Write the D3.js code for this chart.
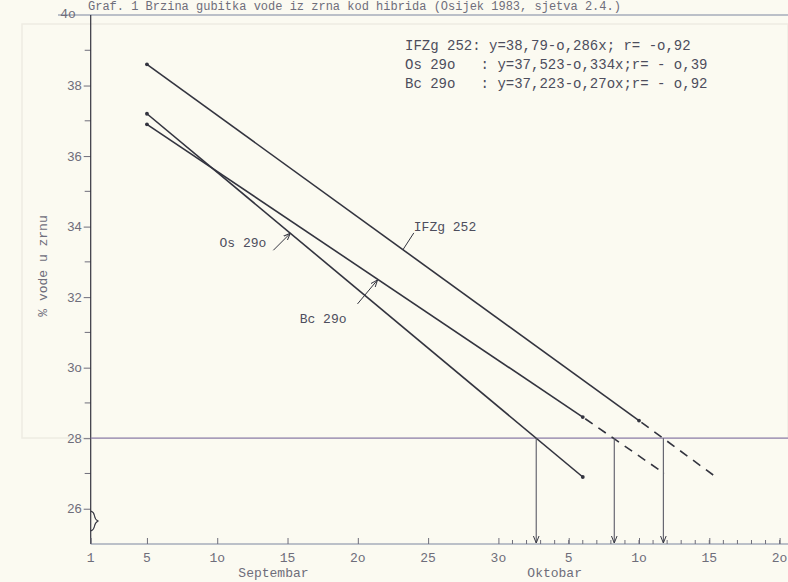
<!DOCTYPE html>
<html>
<head>
<meta charset="utf-8">
<style>
  html, body { margin: 0; padding: 0; background: #fbfaf1; }
  svg { display: block; }
</style>
</head>
<body>
<svg width="788" height="582" font-family="'Liberation Mono', 'DejaVu Sans Mono', monospace"></svg>

<script src="https://cdnjs.cloudflare.com/ajax/libs/d3/7.8.5/d3.min.js"></script>

<script>
// days are counted from 1 September (1 Oct = day 31)
var hybrids = ["IFZg 252", "Os 29o", "Bc 29o"];
var startDays = [5, 5, 5];
var startValues = [38.6, 37.2, 36.9];
var solidEndDays = [40, 36, 36];
var solidEndValues = [28.5, 26.9, 28.6];
var dashEndDays = [45.3, null, 41.8];
var dashEndValues = [26.95, null, 27.0];
var labelDays = [23.2, 15.2, 21.4];   // where each name label points at its line

var equations = [
  "IFZg 252: y=38,79-o,286x; r= -o,92",
  "Os 29o   : y=37,523-o,334x;r= - o,39",
  "Bc 29o   : y=37,223-o,27ox;r= - o,92"
];

var threshold = 28;
var yTickValues = [26, 28, 30, 32, 34, 36, 38];
var yTickLabels = ["26", "28", "3o", "32", "34", "36", "38"];
var yMinorValues = [27, 29, 31, 33, 35, 37, 39];
var xTickDays = [1, 5, 10, 15, 20, 25, 30, 35, 40, 45, 50];
var xTickLabels = ["1", "5", "1o", "15", "2o", "25", "3o", "5", "1o", "15", "2o"];
var months = ["Septembar", "Oktobar"];
var monthDays = [14, 34];

var svg = d3.select("svg"),
    width = +svg.attr("width"),
    height = +svg.attr("height");

var ink = "#33343f", faint = "#6e6d7a", rule = "#8f80ab";

var x = d3.scaleLinear().domain([1, 50]).range([90.7, 779.6]);
var y = d3.scaleLinear().domain([25, 40]).range([544, 15]);

// faint show-through panel of the scanned page
svg.append("rect").attr("x", 22).attr("y", 24).attr("width", 766).attr("height", 414)
    .attr("fill", "none").attr("stroke", "#eeece2").attr("stroke-width", 1.5);

// title (cut by the scan in the original, kept readable here)
svg.append("text")
    .attr("x", 88).attr("y", 10)
    .attr("font-size", 12).attr("fill", faint)
    .text("Graf. 1 Brzina gubitka vode iz zrna kod hibrida (Osijek 1983, sjetva 2.4.)");

// top rule at 40
svg.append("line")
    .attr("x1", 58).attr("x2", width).attr("y1", y(40)).attr("y2", y(40))
    .attr("stroke", "#7d86a0").attr("stroke-width", 1.2);
svg.append("text").attr("x", 68).attr("y", y(40) + 3)
    .attr("font-size", 13).attr("fill", faint).attr("text-anchor", "middle").text("4o");

// y axis
var yAxis = d3.axisLeft(y).tickValues(yTickValues).tickSize(7).tickPadding(2)
    .tickFormat(function(d, i) { return yTickLabels[i]; });
var gy = svg.append("g").attr("transform", "translate(" + x(1) + ",0)").call(yAxis);
gy.select(".domain").remove();
gy.selectAll("line").attr("stroke", faint);
gy.selectAll("text").attr("font-size", 13).attr("fill", faint).attr("font-family", null);
svg.append("g").selectAll("line").data(yMinorValues).enter().append("line")
    .attr("x1", x(1) - 6).attr("x2", x(1)).attr("y1", function(d) { return y(d); })
    .attr("y2", function(d) { return y(d); }).attr("stroke", faint);
svg.append("line").attr("x1", x(1)).attr("x2", x(1)).attr("y1", y(40)).attr("y2", y(25))
    .attr("stroke", ink).attr("stroke-width", 1.2);

// axis break
svg.append("path")
    .attr("d", "M" + x(1) + ",511 C97,513 92,518 98,521 C92,524 97,529 " + x(1) + ",531")
    .attr("fill", "none").attr("stroke", ink).attr("stroke-width", 1.1);

// x axis
svg.append("line").attr("x1", x(1)).attr("x2", width).attr("y1", y(25)).attr("y2", y(25))
    .attr("stroke", "#7d86a0").attr("stroke-width", 1.2);
var xAxis = d3.axisTop(x).tickValues(xTickDays).tickSize(6).tickFormat("");
var gx = svg.append("g").attr("transform", "translate(0," + y(25) + ")").call(xAxis);
gx.select(".domain").remove();
gx.selectAll("line").attr("stroke", faint);
svg.append("g").selectAll("line").data(d3.range(31, 51)).enter().append("line")
    .attr("x1", function(d) { return x(d); }).attr("x2", function(d) { return x(d); })
    .attr("y1", y(25) - 4).attr("y2", y(25)).attr("stroke", faint);
svg.append("g").selectAll("text").data(xTickDays).enter().append("text")
    .attr("x", function(d) { return x(d); }).attr("y", y(25) + 18)
    .attr("text-anchor", "middle").attr("font-size", 13).attr("fill", faint)
    .text(function(d, i) { return xTickLabels[i]; });
svg.append("g").selectAll("text").data(months).enter().append("text")
    .attr("x", function(d, i) { return x(monthDays[i]); }).attr("y", y(25) + 33)
    .attr("text-anchor", "middle").attr("font-size", 13).attr("fill", faint)
    .text(function(d) { return d; });

// y label
svg.append("text")
    .attr("transform", "translate(47,266) rotate(-90)")
    .attr("text-anchor", "middle").attr("font-size", 13).attr("fill", faint)
    .text("% vode u zrnu");

// 28 % line
svg.append("line").attr("x1", x(1)).attr("x2", width)
    .attr("y1", y(threshold)).attr("y2", y(threshold))
    .attr("stroke", rule).attr("stroke-width", 1.3);

// arrow heads
var defs = svg.append("defs");
defs.append("marker").attr("id", "head").attr("viewBox", "0 0 10 10")
    .attr("refX", 10).attr("refY", 5).attr("markerWidth", 7).attr("markerHeight", 7)
    .attr("orient", "auto").attr("markerUnits", "userSpaceOnUse")
  .append("path").attr("d", "M0,1 L10,5 L0,9").attr("fill", "none")
    .attr("stroke", ink).attr("stroke-width", 1.4);

// regression lines
var line = d3.line().x(function(d) { return x(d[0]); }).y(function(d) { return y(d[1]); });
hybrids.forEach(function(h, i) {
  var solid = [[startDays[i], startValues[i]], [solidEndDays[i], solidEndValues[i]]];
  svg.append("path").attr("d", line(solid)).attr("fill", "none")
      .attr("stroke", ink).attr("stroke-width", 1.6);
  svg.selectAll(null).data(solid).enter().append("circle")
      .attr("cx", function(d) { return x(d[0]); }).attr("cy", function(d) { return y(d[1]); })
      .attr("r", 1.9).attr("fill", ink);
  if (dashEndDays[i] != null) {
    svg.append("path")
        .attr("d", line([[solidEndDays[i], solidEndValues[i]], [dashEndDays[i], dashEndValues[i]]]))
        .attr("fill", "none").attr("stroke", ink).attr("stroke-width", 1.6)
        .attr("stroke-dasharray", "9,7").attr("stroke-dashoffset", -3);
  }
});

// value of a line on a given day (straight segments)
function valueAt(i, day) {
  var d0 = startDays[i], v0 = startValues[i];
  var d1 = dashEndDays[i] != null ? dashEndDays[i] : solidEndDays[i];
  var v1 = dashEndDays[i] != null ? dashEndValues[i] : solidEndValues[i];
  return v0 + (v1 - v0) * (day - d0) / (d1 - d0);
}
function dayAt(i, value) {
  var d0 = startDays[i], v0 = startValues[i];
  var d1 = solidEndDays[i], v1 = solidEndValues[i];
  return d0 + (value - v0) * (d1 - d0) / (v1 - v0);
}

// drop arrows where lines reach 28 %
hybrids.forEach(function(h, i) {
  var dx = x(dayAt(i, threshold));
  svg.append("line").attr("x1", dx).attr("x2", dx)
      .attr("y1", y(threshold)).attr("y2", y(25) - 1)
      .attr("stroke", "#5a5a66").attr("stroke-width", 1.1)
      .attr("marker-end", "url(#head)");
});

// line names with leaders: [leader dx, leader dy, text dx, text dy, anchor]
var labelOffsets = [[11, -17, 11, -19, "start"], [-17, 17, -24, 14, "end"], [-20, 24, -31, 43, "end"]];
hybrids.forEach(function(h, i) {
  var ax = x(labelDays[i]), ay = y(valueAt(i, labelDays[i]));
  var o = labelOffsets[i];
  svg.append("line").attr("x1", ax + o[0]).attr("y1", ay + o[1]).attr("x2", ax).attr("y2", ay)
      .attr("stroke", ink).attr("stroke-width", 1)
      .attr("marker-end", i === 0 ? null : "url(#head)");
  svg.append("text").attr("x", ax + o[2]).attr("y", ay + o[3])
      .attr("text-anchor", o[4]).attr("font-size", 13).attr("fill", "#4d4d5c")
      .text(h);
});

// equations
svg.append("g").selectAll("text").data(equations).enter().append("text")
    .attr("x", 405).attr("y", function(d, i) { return 50 + i * 19; })
    .attr("font-size", 14).attr("fill", "#4d4d5c")
    .style("white-space", "pre")
    .text(function(d) { return d; });
</script>
</body>
</html>
